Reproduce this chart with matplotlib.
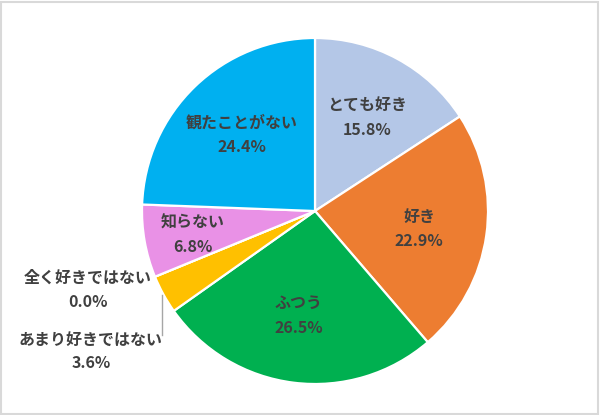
import matplotlib
matplotlib.use("Agg")
import matplotlib.pyplot as plt
import numpy as np
from matplotlib.patches import Rectangle

categories = ["とても好き", "好き", "ふつう", "あまり好きではない", "全く好きではない", "知らない", "観たことがない"]
values = [15.8, 22.9, 26.5, 3.6, 0.0, 6.8, 24.4]
colors = ["#B4C7E7", "#ED7D31", "#00B050", "#FFC000", "#A5A5A5", "#E991E6", "#00B0F0"]

plt.rcParams['font.family'] = ['Noto Sans CJK JP', 'DejaVu Sans']

W, H = 600, 415
fig = plt.figure(figsize=(6.0, 4.15), dpi=100)
ax = fig.add_axes([0, 0, 1, 1])

cx, cy, R = 315, 415 - 211, 173
wedges, _ = ax.pie(values, colors=colors, startangle=90, counterclock=False,
                   center=(cx, cy), radius=R, frame=True,
                   wedgeprops=dict(edgecolor='white', linewidth=1.6))
ax.set_xlim(0, W)
ax.set_ylim(0, H)
ax.set_aspect('equal')
ax.axis('off')

tc = "#404040"
fs = 11.5
# (radius fraction, angle tweak in degrees) for inside labels
place = {0: (0.62, 0.5), 1: (0.61, 1.5), 2: (0.61, 2.0), 5: (0.72, -1.0), 6: (0.61, 0.0)}
cum = np.cumsum([0] + values)
for i, (d, tweak) in place.items():
    mid = (cum[i] + values[i] / 2) / 100.0 * 360.0 + tweak
    ang = np.deg2rad(90 - mid)
    x = cx + d * R * np.cos(ang)
    y = cy + d * R * np.sin(ang)
    ax.text(x, y + 12, categories[i], ha='center', va='center', fontsize=fs,
            fontweight='bold', color=tc)
    ax.text(x, y - 12.5, f"{values[i]:.1f}%", ha='center', va='center', fontsize=fs,
            fontweight='bold', color=tc)

# outside labels
outside = {4: (88, 415 - 290), 3: (91, 415 - 351.5)}
for i, (x, y) in outside.items():
    ax.text(x, y + 12, categories[i], ha='center', va='center', fontsize=fs,
            fontweight='bold', color=tc)
    ax.text(x, y - 12, f"{values[i]:.1f}%", ha='center', va='center', fontsize=fs,
            fontweight='bold', color=tc)

ax.plot([162, 162], [415 - 295, 415 - 335], color="#A6A6A6", lw=1)

fig.patches.append(Rectangle((0.002, 0.003), 0.995, 0.993, transform=fig.transFigure,
                             fill=False, edgecolor="#D9D9D9", lw=1.5))

fig.savefig("out.png", dpi=100)
